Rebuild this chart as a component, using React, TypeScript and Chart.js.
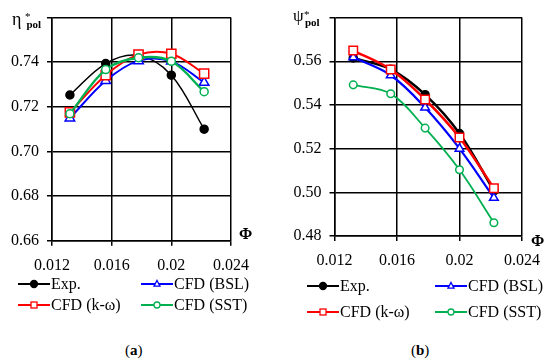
import React, { useEffect, useRef } from "react";
import { Chart, registerables } from "chart.js";
Chart.register(...registerables);

// ---- data ----
const phi = [0.0132, 0.0156, 0.0178, 0.02, 0.0222];
const etaExp = [0.7253, 0.7394, 0.743, 0.7342, 0.71];
const etaBSL = [0.7149, 0.7317, 0.7406, 0.7404, 0.7309];
const etaKW = [0.7175, 0.7342, 0.7434, 0.7438, 0.7349];
const etaSST = [0.7169, 0.7367, 0.742, 0.7404, 0.7268];
const psiExp = [0.5615, 0.5563, 0.5447, 0.5269, 0.5007];
const psiBSL = [0.5618, 0.5536, 0.5388, 0.52, 0.4975];
const psiKW = [0.5649, 0.5562, 0.5425, 0.5251, 0.5019];
const psiSST = [0.5492, 0.5451, 0.5294, 0.5103, 0.4861];
const xTicks = [0.012, 0.016, 0.02, 0.024];
const xTickLabels = ["0.012", "0.016", "0.02", "0.024"];
const etaTicks = [0.66, 0.68, 0.7, 0.72, 0.74, 0.76];
const etaTickLabels = ["0.66", "0.68", "0.70", "0.72", "0.74", ""];
const psiTicks = [0.48, 0.5, 0.52, 0.54, 0.56, 0.58];
const psiTickLabels = ["0.48", "0.50", "0.52", "0.54", "0.56", ""];
const seriesNames = ["Exp.", "CFD (BSL)", "CFD (k-ω)", "CFD (SST)"];

const FONT = "'Liberation Serif', 'Times New Roman', serif";
const COLORS = ["#000000", "#0000ff", "#ff0000", "#00b050"];
const STYLES = ["circle", "triangle", "rect", "circle"];
const FILLS = ["#000000", "#ffffff", "#ffffff", "#ffffff"];

type Area = { left: number; right: number; top: number; bottom: number };

function ChartPanel(props: {
  ys: number[][];
  yTicks: number[];
  yLabels: string[];
  area: Area;
  W: number;
  H: number;
  lineWidths: number[];
  radii: number[];
  x: number;
}) {
  const ref = useRef<HTMLCanvasElement>(null);
  useEffect(() => {
    const { ys, yTicks, yLabels, area, W, H, lineWidths, radii } = props;
    const orders = [4, 3, 2, 1];
    const datasets = ys.map((arr, i) => ({
      label: seriesNames[i],
      data: phi.map((p, k) => ({ x: p, y: arr[k] })),
      showLine: true,
      borderColor: COLORS[i],
      backgroundColor: FILLS[i],
      pointBorderColor: COLORS[i],
      pointBackgroundColor: FILLS[i],
      pointStyle: STYLES[i],
      pointRadius: radii[i],
      pointBorderWidth: 1.5,
      borderWidth: lineWidths[i],
      tension: 0.35,
      order: orders[i],
    }));
    const chart = new Chart(ref.current!, {
      type: "scatter",
      data: { datasets },
      options: {
        animation: false,
        responsive: false,
        maintainAspectRatio: false,
        layout: { padding: { left: 0, top: area.top, right: W - area.right, bottom: 0 } },
        plugins: { legend: { display: false }, tooltip: { enabled: false } },
        scales: {
          x: {
            type: "linear",
            min: xTicks[0],
            max: xTicks[xTicks.length - 1],
            afterBuildTicks: (s: any) => {
              s.ticks = xTicks.map((v) => ({ value: v }));
            },
            afterFit: (s: any) => {
              s.height = H - area.bottom;
            },
            grid: { color: "#000", lineWidth: 1.5, tickLength: 5, tickColor: "#000" },
            border: { color: "#000", width: 1.5 },
            ticks: {
              color: "#000",
              font: { family: FONT, size: 16 },
              padding: 10,
              maxRotation: 0,
              autoSkip: false,
              callback: (_v: any, i: number) => xTickLabels[i],
            },
          },
          y: {
            type: "linear",
            min: yTicks[0],
            max: yTicks[yTicks.length - 1],
            afterBuildTicks: (s: any) => {
              s.ticks = yTicks.map((v) => ({ value: v }));
            },
            afterFit: (s: any) => {
              s.width = area.left;
            },
            grid: { color: "#000", lineWidth: 1.5, tickLength: 5, tickColor: "#000" },
            border: { color: "#000", width: 1.5 },
            ticks: {
              color: "#000",
              font: { family: FONT, size: 16 },
              padding: 8,
              autoSkip: false,
              callback: (_v: any, i: number) => yLabels[i],
            },
          },
        },
      },
    });
    return () => chart.destroy();
  }, []);
  return (
    <canvas
      ref={ref}
      width={props.W}
      height={props.H}
      style={{ position: "absolute", left: props.x, top: 0, width: props.W, height: props.H }}
    />
  );
}

function LegendMark({ i, r }: { i: number; r: number }) {
  const c = COLORS[i];
  let mark: any;
  if (STYLES[i] === "circle") mark = <circle cx={16} cy={6} r={r} fill={FILLS[i]} stroke={c} strokeWidth={1.3} />;
  else if (STYLES[i] === "rect")
    mark = <rect x={16 - r} y={6 - r} width={2 * r} height={2 * r} fill="#fff" stroke={c} strokeWidth={1.3} />;
  else
    mark = (
      <polygon
        points={`16,${6 - r - 0.5} ${16 + r},${6 + r * 0.7} ${16 - r},${6 + r * 0.7}`}
        fill="#fff"
        stroke={c}
        strokeWidth={1.3}
      />
    );
  return (
    <svg width={32} height={12} style={{ display: "block" }}>
      <line x1={0} y1={6} x2={32} y2={6} stroke={c} strokeWidth={2} />
      {mark}
    </svg>
  );
}

function Legend({ cols, rows }: { cols: number[]; rows: number[] }) {
  const items = [0, 1, 2, 3];
  return (
    <>
      {items.map((i) => {
        const col = cols[i % 2];
        const row = rows[Math.floor(i / 2)];
        return (
          <div key={i} style={{ position: "absolute", left: col, top: row - 10, height: 20, display: "flex", alignItems: "center" }}>
            <LegendMark i={i} r={i === 0 ? 3.5 : 3} />
            <span style={{ fontFamily: FONT, fontSize: 16, lineHeight: "20px", marginLeft: 1, color: "#000", whiteSpace: "nowrap" }}>
              {seriesNames[i]}
            </span>
          </div>
        );
      })}
    </>
  );
}

function Txt({ x, y, size, bold, children }: any) {
  return (
    <div
      style={{
        position: "absolute",
        left: x,
        top: y,
        fontFamily: FONT,
        fontSize: size,
        lineHeight: `${size}px`,
        fontWeight: bold ? "bold" : "normal",
        color: "#000",
        whiteSpace: "nowrap",
      }}
    >
      {children}
    </div>
  );
}

export default function App() {
  return (
    <div style={{ position: "absolute", left: 0, top: 0, width: 550, height: 361, background: "#fff", overflow: "hidden" }}>
      <ChartPanel
        x={0}
        W={275}
        H={280}
        ys={[etaExp, etaBSL, etaKW, etaSST]}
        yTicks={etaTicks}
        yLabels={etaTickLabels}
        area={{ left: 52, right: 231, top: 15, bottom: 240.7 }}
        lineWidths={[1.5, 2, 2, 2.3]}
        radii={[4, 5.5, 6.5, 4]}
      />
      <ChartPanel
        x={275}
        W={275}
        H={280}
        ys={[psiExp, psiBSL, psiKW, psiSST]}
        yTicks={psiTicks}
        yLabels={psiTickLabels}
        area={{ left: 59.5, right: 248.5, top: 12.3, bottom: 236 }}
        lineWidths={[2.5, 2.2, 2.5, 1.8]}
        radii={[4, 5, 6, 3.8]}
      />
      {/* axis titles */}
      <Txt x={12} y={10} size={18}>η</Txt>
      <Txt x={25} y={11} size={11}>*</Txt>
      <Txt x={26.5} y={19} size={11} bold>pol</Txt>
      <Txt x={239} y={226} size={16} bold>Φ</Txt>
      <Txt x={293} y={7} size={17}>ψ</Txt>
      <Txt x={304} y={9} size={11}>*</Txt>
      <Txt x={305} y={17} size={11} bold>pol</Txt>
      <Txt x={531} y={233} size={16} bold>Φ</Txt>
      {/* legends */}
      <Legend cols={[18, 141]} rows={[284, 305]} />
      <Legend cols={[307, 435]} rows={[286, 312]} />
      {/* captions */}
      <Txt x={125} y={343} size={15}>
        (<b>a</b>)
      </Txt>
      <Txt x={411} y={343} size={15}>
        (<b>b</b>)
      </Txt>
    </div>
  );
}
